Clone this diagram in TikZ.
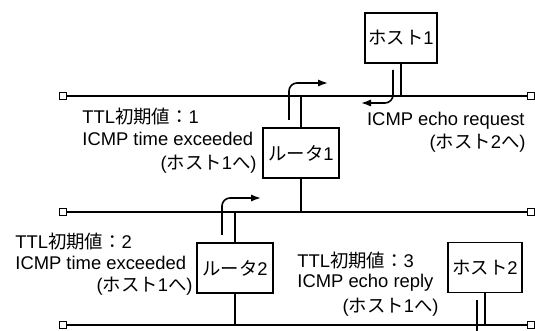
\documentclass[tikz,border=0pt]{standalone}
\usepackage{fontspec}
\setmainfont{Liberation Sans}
\newfontfamily\jp{Noto Sans CJK JP}
\usetikzlibrary{arrows.meta}
\begin{document}
\begin{tikzpicture}[x=0.5pt,y=-0.5pt,
  every node/.style={font=\fontsize{9.2}{11}\selectfont, inner sep=0pt},
  term/.style={draw, fill=white, minimum size=3.5pt, inner sep=0pt, line width=0.6pt},
  bus/.style={line width=0.8pt},
  dev/.style={draw, line width=0.8pt, minimum height=25pt},
  flow/.style={line width=0.8pt, rounded corners=4pt, -{Latex[length=5pt,width=3.6pt]}},
  lw/.style={anchor=west},
  le/.style={anchor=east}]
\useasboundingbox (0,0) rectangle (535,331);
\clip (0,0) rectangle (535,331);
% bus lines
\node[term] (b1l) at (63,96) {};
\node[term] (b1r) at (531,96) {};
\node[term] (b2l) at (63,212) {};
\node[term] (b2r) at (531,212) {};
\node[term] (b3l) at (63,325) {};
\node[term] (b3r) at (531,325) {};
\draw[bus] (b1l) -- (b1r);
\draw[bus] (b2l) -- (b2r);
\draw[bus] (b3l) -- (b3r);
% devices
\node[dev, minimum width=36pt] (h1) at (401,38) {{\jp ホスト}1};
\node[dev, minimum width=38pt] (r1) at (301,153) {{\jp ルータ}1};
\node[dev, minimum width=38pt] (r2) at (235,268) {{\jp ルータ}2};
\node[dev, minimum width=37pt] (h2) at (485,267.5) {{\jp ホスト}2};
% stems
\draw[bus] (h1.south) -- (h1.south |- b1l);
\draw[bus] (r1.north) -- (r1.north |- b1l);
\draw[bus] (r1.south) -- (r1.south |- b2l);
\draw[bus] (r2.north) -- (r2.north |- b2l);
\draw[bus] (r2.south) -- (r2.south |- b3l);
\draw[bus] (h2.south) -- (h2.south |- b3l);
% packet flows
\coordinate (a1s) at (393,70);  \coordinate (a1e) at (361,103);
\coordinate (a2s) at (289,120); \coordinate (a2e) at (328,83);
\coordinate (a3s) at (222,235); \coordinate (a3e) at (261,198);
\coordinate (a4s) at (477,300); \coordinate (a4e) at (440,338);
\draw[flow] (a1s) |- (a1e);
\draw[flow] (a2s) |- (a2e);
\draw[flow] (a3s) |- (a3e);
\draw[flow] (a4s) |- (a4e);
% labels
\node[lw] (t1a) at (82,117) {TTL{\jp 初期値：}1};
\node[lw] (t1b) at (82,139) {ICMP time exceeded};
\node[le] (t1c) at (257,164) {({\jp ホスト}1{\jp へ})};
\node[le] (q1) at (525,121) {ICMP echo request};
\node[le] (q2) at (526,143) {({\jp ホスト}2{\jp へ})};
\node[lw] (t2a) at (15,242) {TTL{\jp 初期値：}2};
\node[lw] (t2b) at (15,263) {ICMP time exceeded};
\node[le] (t2c) at (193,286) {({\jp ホスト}1{\jp へ})};
\node[lw] (t3a) at (297,261) {TTL{\jp 初期値：}3};
\node[lw] (t3b) at (297,283) {ICMP echo reply};
\node[le] (t3c) at (439,307) {({\jp ホスト}1{\jp へ})};
\end{tikzpicture}
\end{document}
